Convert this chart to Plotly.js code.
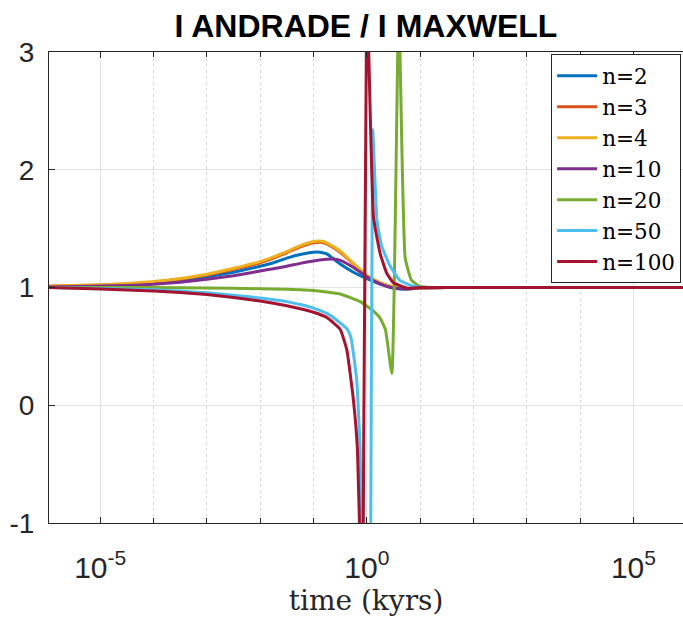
<!DOCTYPE html>
<html>
<head>
<meta charset="utf-8">
<script src="https://cdn.plot.ly/plotly-3.0.1.min.js"></script>
<style>html,body{margin:0;padding:0;background:#fff;}#chart{width:683px;height:618px;}</style>
</head>
<body>
<div id="chart"></div>
<script>
// Series names
const seriesNames = ["n=2", "n=3", "n=4", "n=10", "n=20", "n=50", "n=100"];

// log10(time in kyrs) sample positions and ratio values
const logT_n2 = [-6, -5, -4.5, -4, -3.5, -3, -2.5, -2, -1.75, -1.5, -1.25, -1, -0.875, -0.75, -0.5, -0.25, 0, 0.25, 0.5, 0.75, 1, 1.5, 2, 3, 4, 5, 6];
const val_n2  = [1.008, 1.018, 1.027, 1.04, 1.06, 1.09, 1.13, 1.18, 1.21, 1.25, 1.28, 1.30, 1.30, 1.285, 1.20, 1.13, 1.075, 1.03, 0.995, 0.985, 0.995, 1.0, 1.0, 1.0, 1.0, 1.0, 1.0];

const logT_n3 = [-6, -5, -4.5, -4, -3.5, -3, -2.5, -2, -1.75, -1.5, -1.25, -1, -0.875, -0.75, -0.5, -0.25, 0, 0.25, 0.5, 0.75, 1, 1.5, 2, 3, 4, 5, 6];
const val_n3  = [1.01, 1.02, 1.03, 1.045, 1.07, 1.105, 1.155, 1.21, 1.25, 1.295, 1.345, 1.38, 1.385, 1.37, 1.30, 1.20, 1.10, 1.04, 1.005, 0.99, 0.995, 1.0, 1.0, 1.0, 1.0, 1.0, 1.0];

const logT_n4 = [-6, -5, -4.5, -4, -3.5, -3, -2.5, -2, -1.75, -1.5, -1.25, -1, -0.875, -0.75, -0.5, -0.25, 0, 0.25, 0.5, 0.75, 1, 1.5, 2, 3, 4, 5, 6];
const val_n4  = [1.012, 1.023, 1.034, 1.05, 1.076, 1.112, 1.163, 1.22, 1.26, 1.305, 1.355, 1.39, 1.395, 1.38, 1.31, 1.205, 1.105, 1.04, 1.005, 0.99, 0.995, 1.0, 1.0, 1.0, 1.0, 1.0, 1.0];

const logT_n10 = [-6, -5, -4.5, -4, -3.5, -3, -2.5, -2, -1.75, -1.5, -1.25, -1, -0.75, -0.625, -0.5, -0.25, 0, 0.25, 0.5, 0.75, 1, 1.5, 2, 3, 4, 5, 6];
const val_n10  = [1.005, 1.012, 1.018, 1.027, 1.045, 1.07, 1.10, 1.14, 1.16, 1.18, 1.205, 1.225, 1.24, 1.242, 1.23, 1.17, 1.09, 1.03, 0.995, 0.99, 0.997, 1.0, 1.0, 1.0, 1.0, 1.0, 1.0];

const logT_n20 = [-6, -5, -4, -3, -2, -1.5, -1, -0.5, -0.125, 0.125, 0.25, 0.35, 0.47, 0.6, 0.72, 0.84, 1.0, 1.2, 1.5, 2, 3, 4, 5, 6];
const val_n20  = [1.0, 1.0, 1.0, 0.995, 0.99, 0.985, 0.975, 0.945, 0.88, 0.80, 0.74, 0.64, 0.27, 3.4, 1.25, 1.06, 1.01, 1.0, 1.0, 1.0, 1.0, 1.0, 1.0, 1.0];

const logT_n50 = [-6, -5, -4, -3.5, -3, -2.5, -2, -1.5, -1.25, -1, -0.75, -0.5, -0.375, -0.3, -0.19, -0.125, -0.08, -0.05, 0.07, 0.11, 0.19, 0.28, 0.44, 0.62, 0.87, 1.1, 1.5, 2, 3, 4, 5, 6];
const val_n50  = [1.0, 0.992, 0.98, 0.97, 0.955, 0.935, 0.91, 0.88, 0.855, 0.825, 0.78, 0.70, 0.65, 0.58, 0.22, -0.38, -1.6, -4.0, -1.5, 2.34, 1.57, 1.35, 1.18, 1.06, 1.01, 1.0, 1.0, 1.0, 1.0, 1.0, 1.0, 1.0];

const logT_n100 = [-6, -5, -4, -3.5, -3, -2.5, -2, -1.5, -1.25, -1, -0.75, -0.5, -0.375, -0.25, -0.175, -0.12, -0.1, 0, 0.125, 0.25, 0.375, 0.5, 0.75, 1, 1.5, 2, 3, 4, 5, 6];
const val_n100  = [1.0, 0.988, 0.97, 0.957, 0.94, 0.915, 0.885, 0.845, 0.82, 0.79, 0.745, 0.645, 0.47, 0.04, -0.38, -1.4, -4.0, 3.6, 1.6, 1.29, 1.12, 1.04, 0.995, 1.0, 1.0, 1.0, 1.0, 1.0, 1.0, 1.0];

const seriesLogT = [logT_n2, logT_n3, logT_n4, logT_n10, logT_n20, logT_n50, logT_n100];
const seriesVals = [val_n2, val_n3, val_n4, val_n10, val_n20, val_n50, val_n100];

// Axis ticks
const xMajorExp = [-5, 0, 5];
const xMajorText = ["10<sup>-5</sup>", "10<sup>0</sup>", "10<sup>5</sup>"];
const xMinorExp = [-6, -4, -3, -2, -1, 1, 2, 3, 4, 6];
const yTicks = [-1, 0, 1, 2, 3];

const colors = ["#0072BD", "#D95319", "#EDB120", "#7E2F8E", "#77AC30", "#4DBEEE", "#A2142F"];

const traces = seriesNames.map((name, i) => ({
  type: "scatter",
  mode: "lines",
  name: name,
  x: seriesLogT[i].map(e => Math.pow(10, e)),
  y: seriesVals[i],
  line: {color: colors[i], width: 3, shape: "spline", smoothing: 0.4}
}));

const axisColor = "#262626";
const layout = {
  width: 683,
  height: 618,
  margin: {l: 49, r: 0, t: 52, b: 95, pad: 0},
  paper_bgcolor: "#ffffff",
  plot_bgcolor: "#ffffff",
  showlegend: true,
  title: {
    text: "<b>I ANDRADE / I MAXWELL</b>",
    font: {family: "Liberation Sans, Arial, sans-serif", size: 32, color: "#000000"},
    x: 0.5, xanchor: "center", xref: "paper",
    y: 0.958, yanchor: "middle", yref: "container"
  },
  xaxis: {
    type: "log",
    range: [-5.96, 5.93],
    autorange: false,
    tickmode: "array",
    tickvals: xMajorExp.map(e => Math.pow(10, e)),
    ticktext: xMajorText,
    ticks: "inside",
    ticklen: 6,
    tickcolor: axisColor,
    showline: true,
    linecolor: axisColor,
    linewidth: 1,
    mirror: "ticks",
    showgrid: true,
    gridcolor: "#e3e3e3",
    gridwidth: 1,
    zeroline: false,
    tickfont: {family: "Liberation Sans, Arial, sans-serif", size: 30, color: axisColor},
    ticklabelstandoff: 18,
    minor: {
      tickmode: "array",
      tickvals: xMinorExp.map(e => Math.pow(10, e)),
      ticks: "inside",
      ticklen: 5,
      tickcolor: axisColor,
      showgrid: true,
      gridcolor: "#d6d6d6",
      griddash: "dot",
      gridwidth: 1
    },
    title: {
      text: "time (kyrs)",
      font: {family: "DejaVu Serif, Liberation Serif, serif", size: 28, color: axisColor},
      standoff: 5
    },
    automargin: false
  },
  yaxis: {
    range: [-1, 3],
    autorange: false,
    tickmode: "array",
    tickvals: yTicks,
    ticktext: yTicks.map(String),
    ticks: "inside",
    ticklen: 6,
    tickcolor: axisColor,
    showline: true,
    linecolor: axisColor,
    linewidth: 1,
    mirror: false,
    showgrid: true,
    gridcolor: "#e3e3e3",
    gridwidth: 1,
    zeroline: false,
    tickfont: {family: "Liberation Sans, Arial, sans-serif", size: 28, color: axisColor},
    ticklabelstandoff: 8,
    automargin: false
  },
  legend: {
    x: 0.792, xanchor: "left", xref: "paper",
    y: 0.995, yanchor: "top", yref: "paper",
    bgcolor: "#ffffff",
    bordercolor: axisColor,
    borderwidth: 1,
    font: {family: "DejaVu Serif, Liberation Serif, serif", size: 21.5, color: "#000000"},
    tracegroupgap: 0,
    itemwidth: 40
  }
};

Plotly.newPlot("chart", traces, layout, {displayModeBar: false, staticPlot: true});
</script>
</body>
</html>
